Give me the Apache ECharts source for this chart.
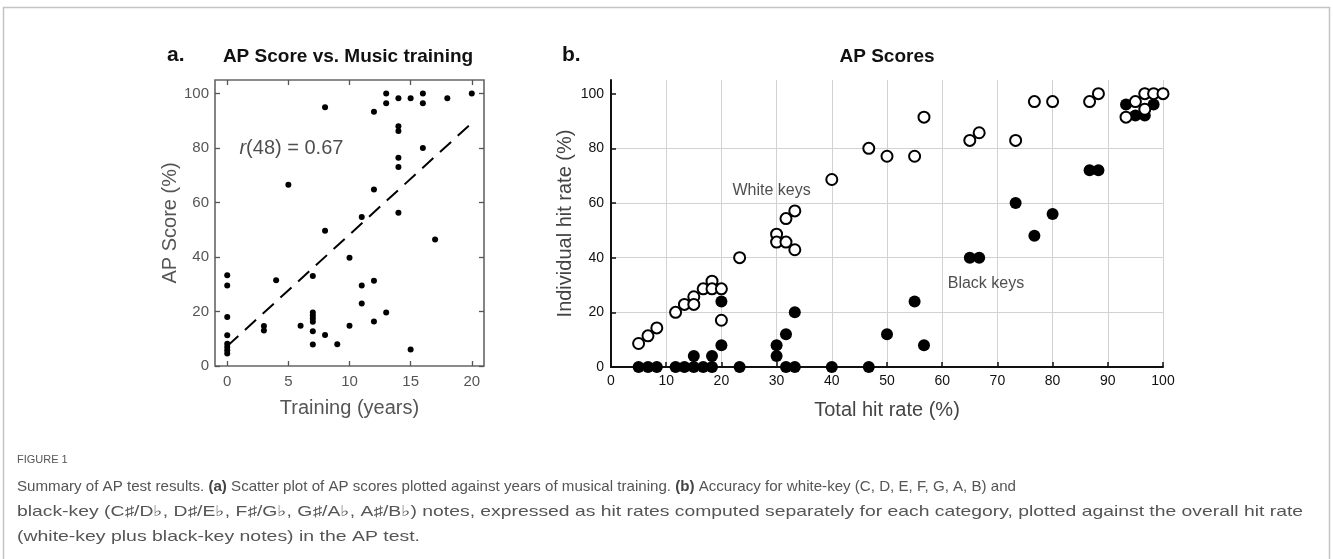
<!DOCTYPE html>
<html>
<head>
<meta charset="utf-8">
<script src="https://cdn.jsdelivr.net/npm/echarts@6/dist/echarts.min.js"></script>
<style>
html,body{margin:0;padding:0;background:#fff;}
#c{width:1333px;height:559px;}
</style>
</head>
<body>
<div id="c"></div>
<script>
// ---------- Panel a: AP score vs. years of training ----------
const trainingYears = [0,0,0,0,0,0,0,0, 3,3, 4, 5, 6, 7,7,7,7,7,7,7, 8,8,8, 9, 10,10, 11,11,11, 12,12,12,12, 13,13,13, 14,14,14,14,14,14, 15,15, 16,16,16, 17, 18, 20];
const apScores = [33.3,29.6,18.0,11.3,8.2,7.0,5.8,4.6, 14.7,13.0, 31.5, 66.5, 14.8, 33.0,19.6,18.5,17.4,16.2,12.8,7.9, 95.0,49.7,11.4, 8.0, 39.7,14.8, 54.7,29.6,22.9, 93.3,64.8,31.3,16.3, 100,96.5,19.6, 98.3,88.0,86.3,76.5,73.1,56.3, 98.3,6.1, 100,96.5,80.0, 46.4, 98.3, 100];
const fitYears = [0, 20];
const fitScores = [7.3, 89.2];
const aTicksX = [0, 5, 10, 15, 20];
const aTicksY = [0, 20, 40, 60, 80, 100];

// ---------- Panel b: individual vs. total hit rate ----------
const totalHitRate = [5.0, 6.7, 8.3, 11.7, 13.3, 15.0, 15.0, 16.7, 18.3, 18.3, 20.0, 20.0, 23.3, 30.0, 30.0, 31.7, 31.7, 33.3, 33.3, 40.0, 46.7, 50.0, 55.0, 56.7, 65.0, 66.7, 73.3, 76.7, 80.0, 86.7, 88.3, 93.3, 95.0, 96.7, 96.7, 98.3, 100];
const whiteKeyRate = [8.6, 11.4, 14.3, 20.0, 22.9, 25.7, 22.9, 28.6, 31.4, 28.6, 28.6, 17.1, 40.0, 48.6, 45.7, 45.7, 54.3, 57.1, 42.9, 68.6, 80.0, 77.1, 77.1, 91.4, 82.9, 85.7, 82.9, 97.1, 97.1, 97.1, 100, 91.4, 97.1, 100, 94.3, 100, 100];
const blackKeyRate = [0, 0, 0, 0, 0, 0, 4, 0, 0, 4, 8, 24, 0, 4, 8, 12, 0, 0, 20, 0, 0, 12, 24, 8, 40, 40, 60, 48, 56, 72, 72, 96, 92, 92, 100, 96, 100];
const bTicksY = [0, 20, 40, 60, 80, 100];
const annotationText = ['White keys', 'Black keys'];
const annotationAt = [[22.0, 64.4], [61.0, 30.5]];

// ---------- Caption text (segments: [text, bold]) ----------
const captionLabel = 'FIGURE 1';
const captionLines = [
  [['Summary of AP test results. ', false], ['(a)', true], [' Scatter plot of AP scores plotted against years of musical training. ', false], ['(b)', true], [' Accuracy for white-key (C, D, E, F, G, A, B) and', false]],
  [['black-key (C\u266F/D\u266D, D\u266F/E\u266D, F\u266F/G\u266D, G\u266F/A\u266D, A\u266F/B\u266D) notes, expressed as hit rates computed separately for each category, plotted against the overall hit rate', false]],
  [['(white-key plus black-key notes) in the AP test.', false]]
];

const FONT = '"Liberation Sans", Arial, sans-serif';
const CAP_SIZE = 14.5;
const CAP_X = 17;
const capLineY = [487, 512, 537];
const capLineRight = [1016, 1303, 420];

const zip = (a, b) => a.map((v, i) => [v, b[i]]);

const mctx = document.createElement('canvas').getContext('2d');
function segWidth(segs) {
  let w = 0;
  segs.forEach(([t, b]) => {
    mctx.font = (b ? 'bold ' : '') + CAP_SIZE + 'px ' + FONT;
    w += mctx.measureText(t).width;
  });
  return w;
}

const captionGraphics = captionLines.map((segs, i) => {
  const txt = segs.map(([t, b]) => '{' + (b ? 'b' : 'n') + '|' + t + '}').join('');
  const w = segWidth(segs);
  const sx = (capLineRight[i] - CAP_X) / w;
  return {
    type: 'text', x: CAP_X, y: capLineY[i], scaleX: sx, scaleY: 1,
    style: {
      text: txt, fontSize: CAP_SIZE, fontFamily: FONT, fill: '#555', align: 'left', verticalAlign: 'middle',
      rich: {
        n: {fontSize: CAP_SIZE, fontFamily: FONT, fill: '#555'},
        b: {fontSize: CAP_SIZE, fontFamily: FONT, fontWeight: 'bold', fill: '#444'}
      }
    }
  };
});

const chart = echarts.init(document.getElementById('c'), null, {renderer: 'canvas'});

const aTick = {show: true, inside: true, length: 5, lineStyle: {color: '#555', width: 1.3}};
const noLine = {show: false, onZero: false};

const option = {
  animation: false,
  backgroundColor: '#fff',
  grid: [
    {left: 215, top: 80, width: 269, height: 286, show: true, borderColor: '#666', borderWidth: 1.6, backgroundColor: 'transparent'},
    {left: 611, top: 80, width: 552, height: 287, show: false}
  ],
  xAxis: [
    {
      gridIndex: 0, type: 'value', min: -1, max: 21, position: 'bottom',
      axisLine: noLine,
      axisTick: Object.assign({customValues: aTicksX}, aTick),
      axisLabel: {customValues: aTicksX, color: '#555', fontSize: 15, margin: 8, fontFamily: FONT},
      splitLine: {show: false},
      name: 'Training (years)', nameLocation: 'middle', nameGap: 32,
      nameTextStyle: {color: '#555', fontSize: 20, fontFamily: FONT}
    },
    {
      gridIndex: 0, type: 'value', min: -1, max: 21, position: 'top',
      axisLine: noLine,
      axisTick: Object.assign({customValues: aTicksX}, aTick),
      axisLabel: {show: false},
      splitLine: {show: false}
    },
    {
      gridIndex: 1, type: 'value', min: 0, max: 100, interval: 10, position: 'bottom',
      axisLine: {show: true, onZero: false, lineStyle: {color: '#111', width: 2}},
      axisTick: {show: true, inside: true, length: 5, lineStyle: {color: '#111', width: 1.5}},
      axisLabel: {color: '#111', fontSize: 14, margin: 7, fontFamily: FONT},
      splitLine: {show: true, showMinLine: false, lineStyle: {color: '#d2d2d2', width: 1}},
      name: 'Total hit rate (%)', nameLocation: 'middle', nameGap: 33,
      nameTextStyle: {color: '#444', fontSize: 20, fontFamily: FONT}
    }
  ],
  yAxis: [
    {
      gridIndex: 0, type: 'value', min: 0, max: 105, position: 'left',
      axisLine: noLine,
      axisTick: Object.assign({customValues: aTicksY}, aTick),
      axisLabel: {customValues: aTicksY, color: '#555', fontSize: 15, margin: 6, fontFamily: FONT},
      splitLine: {show: false},
      name: 'AP Score (%)', nameLocation: 'middle', nameGap: 35, nameRotate: 90,
      nameTextStyle: {color: '#555', fontSize: 20, fontFamily: FONT}
    },
    {
      gridIndex: 0, type: 'value', min: 0, max: 105, position: 'right',
      axisLine: noLine,
      axisTick: Object.assign({customValues: aTicksY}, aTick),
      axisLabel: {show: false},
      splitLine: {show: false}
    },
    {
      gridIndex: 1, type: 'value', min: 0, max: 105, interval: 20, position: 'left',
      axisLine: {show: true, onZero: false, lineStyle: {color: '#111', width: 2}},
      axisTick: {show: true, inside: true, length: 5, customValues: bTicksY, lineStyle: {color: '#111', width: 1.5}},
      axisLabel: {customValues: bTicksY, color: '#111', fontSize: 14, margin: 7, fontFamily: FONT},
      splitLine: {show: true, showMinLine: false, showMaxLine: false, lineStyle: {color: '#d2d2d2', width: 1}},
      name: 'Individual hit rate (%)', nameLocation: 'middle', nameGap: 36, nameRotate: 90,
      nameTextStyle: {color: '#444', fontSize: 20, fontFamily: FONT}
    }
  ],
  series: [
    {
      type: 'scatter', xAxisIndex: 0, yAxisIndex: 0,
      data: zip(trainingYears, apScores),
      symbolSize: 6, itemStyle: {color: '#000', opacity: 1}, z: 3
    },
    {
      type: 'line', xAxisIndex: 0, yAxisIndex: 0,
      data: zip(fitYears, fitScores), symbol: 'none',
      lineStyle: {color: '#000', width: 2, type: [15, 9]}, z: 2
    },
    {
      type: 'scatter', xAxisIndex: 0, yAxisIndex: 0,
      data: [[1.0, 80]], symbolSize: 0, silent: true,
      label: {
        show: true, position: 'right', distance: 0,
        formatter: '{i|r}{n|(48) = 0.67}',
        rich: {
          i: {fontStyle: 'italic', fontSize: 20, fontFamily: FONT, color: '#222'},
          n: {fontSize: 20, fontFamily: FONT, color: '#222'}
        }
      }
    },
    {
      type: 'scatter', xAxisIndex: 2, yAxisIndex: 2,
      data: zip(totalHitRate, blackKeyRate),
      symbolSize: 12, itemStyle: {color: '#000', opacity: 1}, z: 3
    },
    {
      type: 'scatter', xAxisIndex: 2, yAxisIndex: 2,
      data: zip(totalHitRate, whiteKeyRate),
      symbolSize: 11, itemStyle: {color: '#fff', borderColor: '#000', borderWidth: 2, opacity: 1}, z: 4
    },
    {
      type: 'scatter', xAxisIndex: 2, yAxisIndex: 2,
      data: annotationAt.map((p, i) => ({value: p, name: annotationText[i]})),
      symbolSize: 0, silent: true, z: 5,
      label: {show: true, position: 'right', distance: 0, formatter: '{b}', color: '#222', fontSize: 16, fontFamily: FONT}
    }
  ],
  graphic: [
    {type: 'rect', shape: {x: 3.5, y: 7.5, width: 1326, height: 620}, style: {fill: 'none', stroke: '#c4c4c4', lineWidth: 1.5}, silent: true},
    {type: 'text', x: 167, y: 55, style: {text: 'a.', fontSize: 21, fontWeight: 'bold', fontFamily: FONT, fill: '#111', align: 'left', verticalAlign: 'middle'}},
    {type: 'text', x: 348, y: 57, style: {text: 'AP Score vs. Music training', fontSize: 19, fontWeight: 'bold', fontFamily: FONT, fill: '#111', align: 'center', verticalAlign: 'middle'}},
    {type: 'text', x: 562, y: 55, style: {text: 'b.', fontSize: 21, fontWeight: 'bold', fontFamily: FONT, fill: '#111', align: 'left', verticalAlign: 'middle'}},
    {type: 'text', x: 887, y: 57, style: {text: 'AP Scores', fontSize: 19, fontWeight: 'bold', fontFamily: FONT, fill: '#111', align: 'center', verticalAlign: 'middle'}},
    {type: 'text', x: CAP_X, y: 460, style: {text: captionLabel, fontSize: 11, fontFamily: FONT, fill: '#555', align: 'left', verticalAlign: 'middle'}}
  ].concat(captionGraphics)
};

chart.setOption(option);
</script>
</body>
</html>
